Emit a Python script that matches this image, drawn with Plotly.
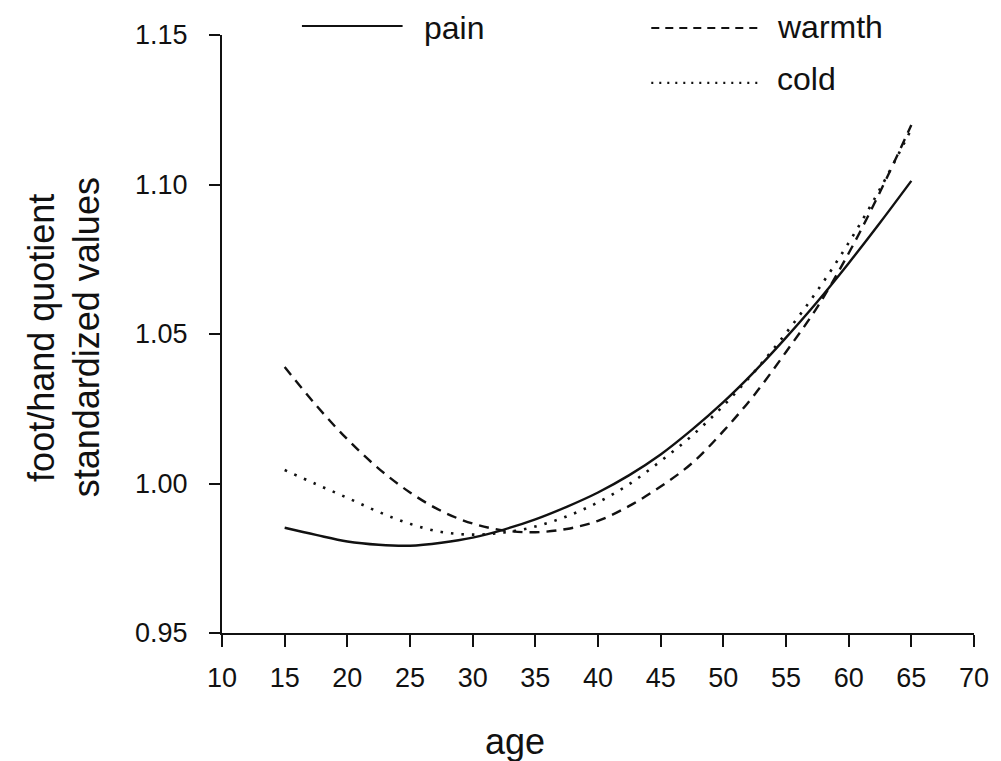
import plotly.graph_objects as go

# ---- data ----
age = [15, 17.5, 20, 22.5, 25, 27.5, 30, 32.5, 35, 37.5, 40, 42.5,
       45, 47.5, 50, 52.5, 55, 57.5, 60, 62.5, 65]
pain = [0.9852, 0.9828, 0.9806, 0.9795, 0.9792, 0.9802, 0.9819, 0.9846,
        0.9880, 0.9922, 0.9970, 1.0028, 1.0097, 1.0180, 1.0272, 1.0375,
        1.0488, 1.0608, 1.0737, 1.0872, 1.1012]
warmth = [1.0390, 1.0262, 1.0148, 1.0050, 0.9970, 0.9908, 0.9866, 0.9843,
          0.9837, 0.9848, 0.9875, 0.9925, 0.9990, 1.0068, 1.0175, 1.0298,
          1.0440, 1.0590, 1.0770, 1.0975, 1.1199]
cold = [1.0045, 0.9998, 0.9952, 0.9905, 0.9865, 0.9838, 0.9829, 0.9836,
        0.9856, 0.9890, 0.9937, 0.9998, 1.0075, 1.0160, 1.0260, 1.0375,
        1.0503, 1.0645, 1.0805, 1.0985, 1.1185]

x_ticks = [10, 15, 20, 25, 30, 35, 40, 45, 50, 55, 60, 65, 70]
y_ticks = [0.95, 1.00, 1.05, 1.10, 1.15]
series_names = ["pain", "warmth", "cold"]

FONT = "Liberation Sans, Arial, sans-serif"
INK = "#111111"

fig = go.Figure()
styles = {
    "pain": dict(dash="solid", width=2.4),
    "warmth": dict(dash="10px,7px", width=2.4),
    "cold": dict(dash="2.5px,8px", width=2.6),
}
for name, vals in zip(series_names, [pain, warmth, cold]):
    st = styles[name]
    fig.add_trace(go.Scatter(
        x=age, y=vals, mode="lines", name=name,
        line=dict(color=INK, width=st["width"], dash=st["dash"], shape="spline",
                  smoothing=1.0),
        showlegend=False,
    ))

# page offset of the figure (body margin) and target plot area in page pixels
OFF = 8
L, R, T, B = 222, 984, 34, 633
W, H = 1001 - OFF, 761 - OFF

def px(xpix):
    return (xpix - L) / (R - L)

def py(ypix):
    return (B - ypix) / (B - T)

shapes = []
annotations = []
# manual legend
leg = [
    ("pain", 303, 405, 25, 425, 27, "solid", 2.2),
    ("warmth", 657, 767, 27, 782, 26, "8px,6px", 2.2),
    ("cold", 657, 767, 82, 782, 78, "2px,6px", 2.4),
]
for name, x0, x1, yl, xt, yt, dash, w in leg:
    shapes.append(dict(type="line", xref="paper", yref="paper",
                       x0=px(x0), x1=px(x1), y0=py(yl), y1=py(yl),
                       line=dict(color=INK, width=w, dash=dash)))
    annotations.append(dict(text=name, xref="paper", yref="paper",
                            x=px(xt), y=py(yt), xanchor="left", yanchor="middle",
                            showarrow=False, font=dict(family=FONT, size=32, color=INK)))

# y-axis title (two lines, rotated)
for txt, xc in [("foot/hand quotient", 39), ("standardized values", 85)]:
    annotations.append(dict(text=txt, xref="paper", yref="paper",
                            x=px(xc), y=py(337), xanchor="center", yanchor="middle",
                            textangle=-90, showarrow=False,
                            font=dict(family=FONT, size=36, color=INK)))
# x-axis title
annotations.append(dict(text="age", xref="paper", yref="paper",
                        x=px(519), y=py(742), xanchor="center", yanchor="middle",
                        showarrow=False, font=dict(family=FONT, size=36, color=INK)))

fig.update_layout(
    width=W, height=H,
    margin=dict(l=L - OFF, r=W - (R - OFF), t=T - OFF, b=H - (B - OFF)),
    paper_bgcolor="white", plot_bgcolor="white",
    font=dict(family=FONT, size=27, color=INK),
    shapes=shapes, annotations=annotations,
    showlegend=False,
)
fig.update_xaxes(
    range=[10, 70], tickmode="array", tickvals=x_ticks,
    ticktext=[str(v) for v in x_ticks],
    showgrid=False, zeroline=False, showline=True, linecolor=INK, linewidth=2,
    ticks="outside", ticklen=12, tickwidth=2, tickcolor=INK,
    ticklabelstandoff=8, tickfont=dict(size=27),
)
fig.update_yaxes(
    range=[0.95, 1.15], tickmode="array", tickvals=y_ticks,
    ticktext=[f"{v:.2f}" for v in y_ticks],
    showgrid=False, zeroline=False, showline=True, linecolor=INK, linewidth=2,
    ticks="outside", ticklen=11, tickwidth=2, tickcolor=INK,
    ticklabelstandoff=16, tickfont=dict(size=27),
)

fig.write_html("out.html")
